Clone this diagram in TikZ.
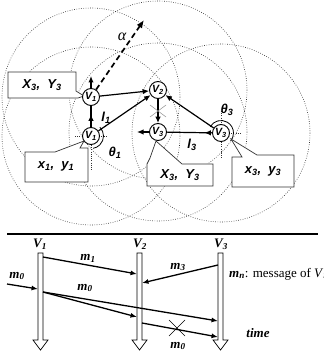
\documentclass[tikz,border=0pt]{standalone}
\usepackage{fontspec}
\setmainfont{Liberation Serif}
\setsansfont{Liberation Sans}
\usetikzlibrary{arrows.meta,calc,decorations.markings}
\tikzset{
  dotc/.style={black!80, line width=0.6pt, dash pattern=on 0.7pt off 1.6pt},
  cross/.style={black!80, line width=0.9pt, dash pattern=on 1pt off 1.2pt},
  nd/.style={circle, draw, line width=0.9pt, minimum size=17pt, inner sep=0pt, fill=white,
    font=\sffamily\bfseries\itshape\fontsize{10.5}{10}\selectfont},
  arr/.style={line width=1.2pt, -{Latex[length=6.5pt,width=5.5pt]}},
  midarr/.style={line width=1.2pt, decoration={markings, mark=at position #1 with {\arrow{Latex[length=6.5pt,width=5.5pt]}}}, postaction=decorate},
  callout/.style={draw=black!80, line width=0.7pt, fill=white},
  lab/.style={font=\sffamily\bfseries\itshape\fontsize{13}{13}\selectfont, inner sep=0pt},
  slab/.style={font=\sffamily\bfseries\itshape\fontsize{13}{13}\selectfont, inner sep=0pt},
  msg/.style={line width=1.3pt, -{Latex[length=6.5pt,width=5pt]}},
  mlab/.style={font=\bfseries\itshape\fontsize{13}{13}\selectfont, inner sep=0pt},
  life/.style={draw, line width=0.7pt, fill=white},
}
\begin{document}
\begin{tikzpicture}[x=1pt,y=-1pt]
\useasboundingbox (0,0) rectangle (323,355);
% node positions
\coordinate (p1a) at (91,97);
\coordinate (p1b) at (91,136);
\coordinate (p2) at (158,90);
\coordinate (p3m) at (158,132);
\coordinate (p3r) at (221,133);
% dotted range circles
\foreach \p in {p1a,p1b,p2,p3m,p3r}
  \draw[dotc] (\p) circle[radius=89];
% crosshair dotted lines
\draw[cross] (75,136) -- (108,136);
\draw[cross] (91,145) -- (91,171);
\draw[cross] (221,111) -- (221,124);
\draw[cross] (221,142) -- (221,158);
\draw[cross] (229,133) -- (241,133);
% angle arcs
\draw[line width=0.8pt] ($(p1b)+(-45:12.5)$) arc[start angle=-45, end angle=80, radius=12.5];
\draw[line width=0.8pt] ($(p3r)+(-150:12.5)$) arc[start angle=-150, end angle=40, radius=12.5];
% callout boxes
\draw[callout] (8,72) -- (76,72) -- (76,91) -- (84,96) -- (78,98) -- (8,98) -- cycle;
\node[lab] (tA) at (42,85) {X\textsubscript{3},\ \ Y\textsubscript{3}};
\draw[callout] (25,152) -- (55,152) -- (84,141) -- (80,148) -- (88,148) -- (88,182) -- (25,182) -- cycle;
\node[lab] (tB) at (56,166) {x\textsubscript{1},\ \ y\textsubscript{1}};
\draw[callout] (147,186) -- (147,164) -- (150,158) -- (156,141) -- (182,164) -- (213,164) -- (213,186) -- cycle;
\node[lab] (tC) at (180,175) {X\textsubscript{3},\ \ Y\textsubscript{3}};
\draw[callout] (232,187) -- (232,157) -- (242,157) -- (231,139) -- (257,155) -- (294,155) -- (294,187) -- cycle;
\node[lab] (tD) at (263,171) {x\textsubscript{3},\ \ y\textsubscript{3}};
% nodes
\node[nd] (v1a) at (p1a) {V\textsubscript{1}};
\node[nd] (v1b) at (p1b) {V\textsubscript{1}};
\node[nd] (v2) at (p2) {V\textsubscript{2}};
\node[nd] (v3m) at (p3m) {V\textsubscript{3}};
\node[nd] (v3r) at (p3r) {V\textsubscript{3}};
% free ends
\coordinate (v1up) at (91,76);
\coordinate (v3left) at (137,132);
\coordinate (alphatip) at (144,20);
% connectors
\draw[arr] (v1a) -- (v1up);
\draw[arr] (v3m) -- (v3left);
\draw[line width=1.7pt, dash pattern=on 5.5pt off 3.5pt, -{Latex[length=8pt,width=6.5pt]}] (v1a) -- (alphatip);
\draw[arr] (v1a) -- (v2);
\draw[arr] (v1b) -- (v2);
\draw[midarr=0.6] (v1b) -- (v1a);
\draw[arr] (v2) -- (v3m);
\draw[arr] (v3r) -- (v2);
\draw[midarr=0.17] (v3r) -- (v3m);
% crossed-out mark on v2 -> v3m
\draw[black!45, line width=0.5pt] (150,105) -- (166,117) (150,117) -- (166,105);
% labels
\node[slab] (al) at (122,37) {\rmfamily\mdseries\fontsize{16}{16}\selectfont α};
\node[slab] (l1) at (106,118) {l\textsubscript{1}};
\node[slab] (l3) at (192,145) {l\textsubscript{3}};
\node[slab] (th1) at (115,153) {θ\textsubscript{1}};
\node[slab] (th3) at (227,110) {θ\textsubscript{3}};
% separator
\draw[line width=1.6pt] (7,234) -- (318,234);
% lifelines
\foreach \c in {40.5,139.5,220.5}
  \draw[life] (\c-2.5,253) -- (\c-2.5,340) -- (\c-7.5,340) -- (\c,350) -- (\c+7.5,340) -- (\c+2.5,340) -- (\c+2.5,253) -- cycle;
\node[mlab] (L1) at (40,244) {V\textsubscript{1}};
\node[mlab] (L2) at (140,244) {V\textsubscript{2}};
\node[mlab] (L3) at (221,244) {V\textsubscript{3}};
% message end points
\coordinate (a0) at (7,284);  \coordinate (b0) at (38,289);
\coordinate (a1) at (43,257); \coordinate (b1) at (137,274);
\coordinate (a3) at (218,265); \coordinate (b3) at (142,283);
\coordinate (a4) at (43,292); \coordinate (b4) at (137,317);
\coordinate (b5) at (218,321);
\coordinate (a6) at (142,323); \coordinate (b6) at (218,337);
\draw[msg] (a0) -- (b0);
\draw[msg] (a1) -- (b1);
\draw[msg] (a3) -- (b3);
\draw[msg] (a4) -- (b4);
\draw[msg] (a4) -- (b5);
\draw[msg] (a6) -- (b6);
\draw[line width=0.6pt] (169,320) -- (185,336) (169,336) -- (185,320);
\node[mlab] (n0) at (17,276) {m\textsubscript{0}};
\node[mlab] (n1) at (88,258) {m\textsubscript{1}};
\node[mlab] (n3) at (178,267) {m\textsubscript{3}};
\node[mlab] (n4) at (85,288) {m\textsubscript{0}};
\node[mlab] (n6) at (178,346) {m\textsubscript{0}};
\node[mlab] (tm) at (258,333) {time};
\node[anchor=west, inner sep=0pt, font=\fontsize{13}{13}\selectfont] (leg) at (229,274)
  {\textbf{\textit{m}}\textsubscript{\textbf{\textit{n}}}: message of \textit{V}\textsubscript{\textit{n}}};
\end{tikzpicture}
\end{document}
